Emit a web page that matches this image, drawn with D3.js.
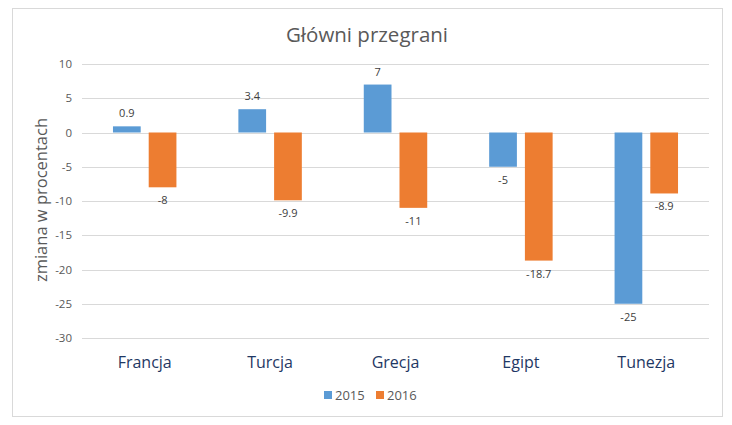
<!DOCTYPE html>
<html>
<head>
<meta charset="utf-8">
<script src="https://cdn.jsdelivr.net/npm/d3@7"></script>
<style>
  body { margin: 0; background: #fff; }
  svg { display: block; font-family: "Open Sans", "Noto Sans", sans-serif; }
</style>
</head>
<body>
<div id="chart"></div>
<script>
const categories = ["Francja", "Turcja", "Grecja", "Egipt", "Tunezja"];
const seriesNames = ["2015", "2016"];
const values2015 = [0.9, 3.4, 7, -5, -25];
const values2016 = [-8, -9.9, -11, -18.7, -8.9];
const yTicks = [10, 5, 0, -5, -10, -15, -20, -25, -30];
const colors = ["#5B9BD5", "#ED7D31"];

const width = 732, height = 425;
const margin = {left: 82, right: 23, top: 64, bottom: 87};

const svg = d3.select("#chart").append("svg")
    .attr("width", width)
    .attr("height", height);

// chart frame
svg.append("rect")
    .attr("x", 12.5).attr("y", 8.5)
    .attr("width", 710).attr("height", 408)
    .attr("fill", "#fff")
    .attr("stroke", "#D9D9D9");

const x0 = d3.scaleBand()
    .domain(categories)
    .range([margin.left, width - margin.right])
    .padding(0);

const groupW = x0.bandwidth() * 0.506;
const x1 = d3.scaleBand()
    .domain(seriesNames)
    .range([(x0.bandwidth() - groupW) / 2, (x0.bandwidth() + groupW) / 2])
    .paddingInner(0.224);

const y = d3.scaleLinear()
    .domain([-30, 10])
    .range([height - margin.bottom, margin.top]);

// gridlines
svg.append("g")
    .selectAll("line")
    .data(yTicks)
    .join("line")
    .attr("x1", margin.left).attr("x2", width - margin.right)
    .attr("y1", d => Math.round(y(d)) + 0.5)
    .attr("y2", d => Math.round(y(d)) + 0.5)
    .attr("stroke", "#D9D9D9");

// y axis labels (plain hyphen for minus, like the original)
const yAxis = d3.axisLeft(y).tickValues(yTicks).tickSize(0).tickPadding(10)
    .tickFormat(d => String(d));
svg.append("g")
    .attr("transform", `translate(${margin.left},0)`)
    .call(yAxis)
    .call(g => g.select(".domain").remove())
    .selectAll("text")
    .attr("fill", "#595959")
    .style("font-size", "11.5px")
    .style("font-family", "'Open Sans', sans-serif");

// bars
const rows = categories.map((c, i) => ({cat: c, vals: [values2015[i], values2016[i]]}));

const groups = svg.append("g")
    .selectAll("g")
    .data(rows)
    .join("g")
    .attr("transform", d => `translate(${x0(d.cat)},0)`);

groups.selectAll("rect")
    .data(d => d.vals.map((v, j) => ({s: seriesNames[j], v: v, j: j})))
    .join("rect")
    .attr("x", d => x1(d.s))
    .attr("width", x1.bandwidth())
    .attr("y", d => y(Math.max(0, d.v)))
    .attr("height", d => Math.abs(y(d.v) - y(0)))
    .attr("fill", d => colors[d.j]);

groups.selectAll("text.val")
    .data(d => d.vals.map((v, j) => ({s: seriesNames[j], v: v, j: j})))
    .join("text")
    .attr("class", "val")
    .attr("x", d => x1(d.s) + x1.bandwidth() / 2)
    .attr("y", d => d.v >= 0 ? y(d.v) - 9 : y(d.v) + 17)
    .attr("text-anchor", "middle")
    .attr("fill", "#404040")
    .style("font-size", "11px")
    .text(d => d.v);

// category labels
svg.append("g")
    .selectAll("text")
    .data(categories)
    .join("text")
    .attr("x", d => x0(d) + x0.bandwidth() / 2)
    .attr("y", 368)
    .attr("text-anchor", "middle")
    .attr("fill", "#1F3864")
    .style("font-size", "16px")
    .text(d => d);

// title
svg.append("text")
    .attr("x", 367).attr("y", 42)
    .attr("text-anchor", "middle")
    .attr("fill", "#595959")
    .style("font-size", "20.5px")
    .text("Główni przegrani");

// y axis title
svg.append("text")
    .attr("transform", "translate(47,200) rotate(-90)")
    .attr("text-anchor", "middle")
    .attr("fill", "#595959")
    .style("font-size", "16.5px")
    .text("zmiana w procentach");

// legend
const legend = svg.append("g")
    .selectAll("g")
    .data(seriesNames)
    .join("g")
    .attr("transform", (d, i) => `translate(${324 + i * 52},391)`);
legend.append("rect")
    .attr("width", 8).attr("height", 8)
    .attr("fill", (d, i) => colors[i]);
legend.append("text")
    .attr("x", 11).attr("y", 8.5)
    .attr("fill", "#595959")
    .style("font-size", "13px")
    .text(d => d);
</script>
</body>
</html>
